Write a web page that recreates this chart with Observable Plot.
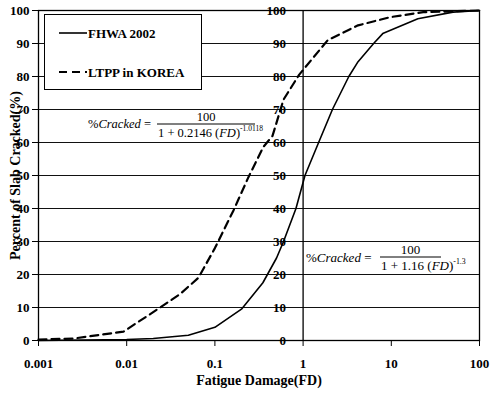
<!DOCTYPE html>
<html>
<head>
<meta charset="utf-8">
<script src="https://cdn.jsdelivr.net/npm/d3@7"></script>
<script src="https://cdn.jsdelivr.net/npm/@observablehq/plot@0.6"></script>
<style>
  body { margin: 0; background: #fff; }
  svg { display: block; }
  svg, svg text { font-family: "Liberation Serif", "Times New Roman", Times, serif !important; }
</style>
</head>
<body>
<script>
// ---- data ----
const fhwaFD  = [0.001, 0.01, 0.02, 0.05, 0.1, 0.2, 0.35, 0.5, 0.6, 0.83, 1.05, 1.5, 2.15, 3.3, 4.2, 6.3, 8, 20, 50, 100];
const fhwaPct = [0,     0.3,  0.6,  1.6,  4,   9.5, 17.5, 25,  30,  40,   50,   60,  70,   80,  84.5, 90, 93, 97.5, 99.5, 100];

const ltppFD  = [0.001, 0.0025, 0.0092, 0.024, 0.04, 0.065, 0.1, 0.163, 0.24, 0.355, 0.45, 0.6, 0.9, 1.0, 1.9, 4.2, 9.8, 23, 100];
const ltppPct = [0.3,   0.6,    2.7,    10,    14,   19,    28,  39.5,  49.5, 58.7,  62,   73,  80.5, 82, 91,  95.5, 98, 99.5, 100];

const xTicks = [0.001, 0.01, 0.1, 1, 10, 100];
const xTickLabels = ["0.001", "0.01", "0.1", "1", "10", "100"];
const yTicks = [0, 10, 20, 30, 40, 50, 60, 70, 80, 90, 100];
const yAxisAt = 1;

const seriesNames = ["FHWA 2002", "LTPP in KOREA"];

const chart = Plot.plot({
  width: 490,
  height: 393,
  marginLeft: 38,
  marginRight: 11,
  marginTop: 10,
  marginBottom: 53,
  style: { fontSize: "13px", fontWeight: "bold", background: "#fff", color: "#000" },
  x: { type: "log", domain: [0.001, 100] },
  y: { domain: [0, 100] },
  marks: [
    Plot.ruleY(yTicks, { stroke: "#111", strokeWidth: 1 }),
    Plot.ruleX([yAxisAt], { stroke: "#000", strokeWidth: 1.3 }),
    Plot.frame({ stroke: "#000", strokeWidth: 1.3 }),
    Plot.line(fhwaPct, { x: fhwaFD, y: fhwaPct, stroke: "#000", strokeWidth: 1.6 }),
    Plot.line(ltppPct, { x: ltppFD, y: ltppPct, stroke: "#000", strokeWidth: 2.2, strokeDasharray: "8,5" }),
    Plot.text(yTicks, { x: yAxisAt, y: d => d, text: d => String(d), textAnchor: "end", dx: -17, fontWeight: "bold", fontSize: 13, fill: "#000" }),
    Plot.axisX({ ticks: xTicks, tickFormat: d => xTickLabels[xTicks.indexOf(d)], tickSize: 6, tickPadding: 12, fontSize: 13, fontWeight: "bold", label: null, stroke: "#000" }),
    Plot.text(["Fatigue Damage(FD)"], { frameAnchor: "bottom", lineAnchor: "middle", textAnchor: "middle", dy: 40, fontSize: 14, fontWeight: "bold", fill: "#000" }),
    Plot.text(["Percent of Slab Cracked(%)"], { frameAnchor: "left", textAnchor: "middle", lineAnchor: "middle", dx: -23, rotate: -90, fontSize: 14, fontWeight: "bold", fill: "#000" })
  ]
});
document.body.append(chart);

const svg = d3.select(chart);

// ---- legend box ----
const lg = svg.append("g").attr("text-anchor", "start");
lg.append("rect").attr("x", 44.5).attr("y", 14.5).attr("width", 157).attr("height", 75)
  .attr("fill", "#fff").attr("stroke", "#000").attr("stroke-width", 1);
lg.append("line").attr("x1", 59).attr("x2", 87).attr("y1", 33).attr("y2", 33)
  .attr("stroke", "#000").attr("stroke-width", 1.6);
lg.append("line").attr("x1", 59).attr("x2", 87).attr("y1", 72).attr("y2", 72)
  .attr("stroke", "#000").attr("stroke-width", 2).attr("stroke-dasharray", "8,5");
lg.selectAll("text.lab").data(seriesNames).join("text")
  .attr("x", 88).attr("y", (d, i) => i === 0 ? 33 : 72).attr("dy", "0.35em")
  .attr("font-size", 13).attr("font-weight", "bold").text(d => d);

// ---- equations ----
function equation(x0, yBar, barX1, barX2, coef, expo, fs) {
  const g = svg.append("g").attr("font-weight", "normal").attr("fill", "#000").attr("text-anchor", "start");
  const t = g.append("text").attr("x", x0).attr("y", yBar).attr("dy", "0.35em").attr("font-size", fs);
  t.append("tspan").text("%");
  t.append("tspan").attr("font-style", "italic").text("Cracked");
  t.append("tspan").text(" =");
  g.append("line").attr("x1", barX1).attr("x2", barX2).attr("y1", yBar).attr("y2", yBar)
    .attr("stroke", "#000").attr("stroke-width", 1);
  g.append("text").attr("x", (barX1 + barX2) / 2).attr("y", yBar - 3).attr("text-anchor", "middle")
    .attr("font-size", fs).text("100");
  const d = g.append("text").attr("x", barX1 + 1).attr("y", yBar + 13).attr("font-size", fs);
  d.append("tspan").text("1 + " + coef + " (");
  d.append("tspan").attr("font-style", "italic").text("FD");
  d.append("tspan").text(")");
  d.append("tspan").attr("dy", -6).attr("font-size", fs * 0.6).text(expo);
}
equation(88, 124, 157, 255, "0.2146", "-1.0118", 12.5);
equation(306, 257, 380, 441, "1.16", "-1.3", 13);
</script>
</body>
</html>
